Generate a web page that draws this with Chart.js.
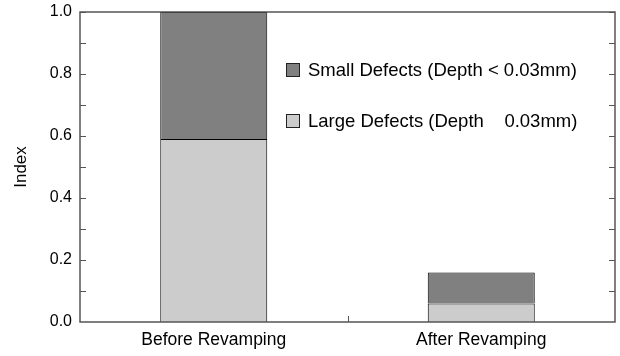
<!DOCTYPE html>
<html>
<head>
<meta charset="utf-8">
<script src="https://cdn.jsdelivr.net/npm/chart.js@4.4.1/dist/chart.umd.min.js"></script>
<style>
  html, body { margin: 0; padding: 0; background: #fff; }
  #wrap { width: 620px; height: 356px; }
</style>
</head>
<body>
<div id="wrap"><canvas id="chart"></canvas></div>
<script>
// Data
const categories = ['Before Revamping', 'After Revamping'];
const largeDefects = [0.59, 0.06];
const smallDefects = [0.41, 0.10];
const largeLabel = 'Large Defects (Depth    0.03mm)';
const smallLabel = 'Small Defects (Depth < 0.03mm)';
const yTickValues = [0, 0.2, 0.4, 0.6, 0.8, 1.0];

const FONT = '"Liberation Sans", Arial, Helvetica, sans-serif';
const AXIS_COLOR = '#555';

// Draws the frame, inward ticks and the legend inside the plot area
const framePlugin = {
    id: 'frame',
    afterDraw(chart) {
        const { ctx, chartArea: a, scales } = chart;
        const y = scales.y, x = scales.x;
        ctx.save();
        ctx.strokeStyle = AXIS_COLOR;
        ctx.lineWidth = 1.5;
        ctx.strokeRect(a.left, a.top, a.right - a.left, a.bottom - a.top);

        // minor + major ticks pointing inward on both sides
        ctx.lineWidth = 1;
        for (let v = 0.1; v < 1; v += 0.1) {
            const py = Math.round(y.getPixelForValue(v)) + 0.5;
            ctx.beginPath();
            ctx.moveTo(a.left, py); ctx.lineTo(a.left + 6, py);
            ctx.moveTo(a.right, py); ctx.lineTo(a.right - 6, py);
            ctx.stroke();
        }
        // category boundary tick on the x axis
        const mid = Math.round((x.getPixelForValue(0) + x.getPixelForValue(1)) / 2) + 0.5;
        ctx.beginPath();
        ctx.moveTo(mid, a.bottom); ctx.lineTo(mid, a.bottom - 6);
        ctx.stroke();

        // legend
        const items = [chart.data.datasets[1], chart.data.datasets[0]];
        const rows = [70, 121];
        ctx.font = '18.5px ' + FONT;
        ctx.textBaseline = 'middle';
        items.forEach((ds, i) => {
            const cy = rows[i];
            ctx.fillStyle = ds.backgroundColor;
            ctx.fillRect(286.5, cy - 6.5, 13, 13);
            ctx.strokeStyle = '#222';
            ctx.strokeRect(286.5, cy - 6.5, 13, 13);
            ctx.fillStyle = '#000';
            ctx.fillText(ds.label, 308, cy + 1);
        });
        ctx.restore();
    }
};

new Chart(document.getElementById('chart'), {
    type: 'bar',
    data: {
        labels: categories,
        datasets: [
            { label: largeLabel, data: largeDefects, backgroundColor: '#cccccc', borderColor: '#000', borderWidth: 1 },
            { label: smallLabel, data: smallDefects, backgroundColor: '#808080', borderColor: '#000', borderWidth: 1 }
        ]
    },
    options: {
        responsive: true,
        maintainAspectRatio: false,
        animation: false,
        layout: { padding: { top: 12, right: 5, left: 0, bottom: 0 } },
        datasets: { bar: { barPercentage: 0.4, categoryPercentage: 1.0 } },
        plugins: { legend: { display: false }, tooltip: { enabled: false } },
        scales: {
            x: {
                stacked: true,
                grid: { display: false, drawTicks: false },
                border: { display: false },
                ticks: { color: '#000', font: { family: FONT, size: 17.5 }, padding: 8 },
                afterFit: s => { s.height = 34; }
            },
            y: {
                stacked: true,
                min: 0,
                max: 1,
                grid: { display: false, drawTicks: false },
                border: { display: false },
                afterBuildTicks: s => { s.ticks = yTickValues.map(v => ({ value: v })); },
                ticks: {
                    color: '#000',
                    font: { family: FONT, size: 16 },
                    padding: 8,
                    callback: v => Number(v).toFixed(1)
                },
                title: {
                    display: true,
                    text: 'Index',
                    color: '#000',
                    font: { family: FONT, size: 17 },
                    padding: { top: 11, bottom: 0 }
                },
                afterFit: s => {
                    s.width = 80;
                    s.paddingTop = 0;
                    s.paddingBottom = 0;
                }
            }
        }
    },
    plugins: [framePlugin]
});
</script>
</body>
</html>
